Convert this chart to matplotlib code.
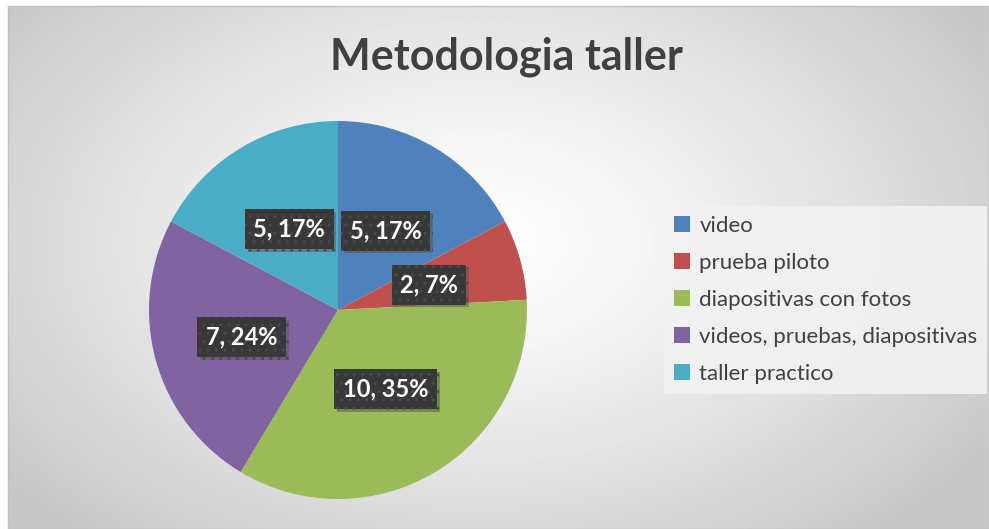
import matplotlib.pyplot as plt
import matplotlib.patheffects as pe
import numpy as np

categories = ['video', 'prueba piloto', 'diapositivas con fotos',
              'videos, pruebas, diapositivas', 'taller practico']
values = [5, 2, 10, 7, 5]
pct_labels = [17, 7, 35, 24, 17]  # as printed on the chart
colors = ['#4F81BD', '#C0504D', '#9BBB59', '#8064A2', '#4BACC6']
title = 'Metodologia taller'

plt.rcParams['hatch.color'] = '#4a4a4a'
plt.rcParams['hatch.linewidth'] = 1.0

W, H = 989, 529
fig = plt.figure(figsize=(W / 100, H / 100), dpi=100)
fig.patch.set_facecolor('white')

# chart area background, radial grey gradient
bx0, by0 = 8 / W, 0
bg = fig.add_axes([bx0, by0, 1 - bx0, 1 - 6 / H])
yy, xx = np.mgrid[0:1:300j, 0:1:600j]
d = np.sqrt(((xx - 0.48) / 0.62) ** 2 + ((yy - 0.45) / 0.75) ** 2)
shade = 1 - 0.22 * np.clip(d, 0, 1) ** 1.3
bg.imshow(shade, cmap='gray', vmin=0, vmax=1, extent=[0, 1, 0, 1],
          aspect='auto', origin='upper')
bg.set_xticks([])
bg.set_yticks([])
for s in bg.spines.values():
    s.set_color('#c0c0c0')
    s.set_linewidth(1)

fig.text(506 / W, 1 - 57 / H, title, ha='center', va='center',
         fontsize=31, fontweight='bold', color='#404040', family='Lato')

# pie
cx, cy, r = 338, 310, 189
ax = fig.add_axes([(cx - r) / W, (H - cy - r) / H, 2 * r / W, 2 * r / H])
wedges, _ = ax.pie(values, colors=colors, startangle=90, counterclock=False,
                   radius=1, wedgeprops=dict(linewidth=0))
ax.set_xlim(-1, 1)
ax.set_ylim(-1, 1)
ax.set_aspect('equal')
ax.axis('off')

label_r = [0.49, 0.50, 0.49, 0.53, 0.50]
for w, v, p, lr in zip(wedges, values, pct_labels, label_r):
    ang = np.deg2rad((w.theta1 + w.theta2) / 2)
    x, y = lr * np.cos(ang), lr * np.sin(ang)
    t = ax.text(x, y, f'{v}, {p}%', ha='center', va='center',
                fontsize=17, fontweight='bold', color='white', family='Lato',
                bbox=dict(boxstyle='square,pad=0.36', facecolor='#383838',
                          edgecolor='#4a4a4a', hatch='..', linewidth=0))
    t.get_bbox_patch().set_path_effects(
        [pe.SimplePatchShadow(offset=(2, -2), shadow_rgbFace='#555555', alpha=0.5),
         pe.Normal()])

# legend
leg = fig.legend(wedges, categories, loc='upper left',
                 bbox_to_anchor=(664 / W, 1 - 206 / H), frameon=True,
                 prop={'family': 'Lato', 'size': 16},
                 handlelength=0.72, handleheight=0.72, handletextpad=0.42,
                 labelspacing=0.76, borderpad=0.45, borderaxespad=0,
                 fancybox=False)
leg.get_frame().set_facecolor('#f2f2f2')
leg.get_frame().set_edgecolor('none')
leg.get_frame().set_alpha(0.9)
for txt in leg.get_texts():
    txt.set_color('#404040')

fig.savefig('out.png', dpi=100)
